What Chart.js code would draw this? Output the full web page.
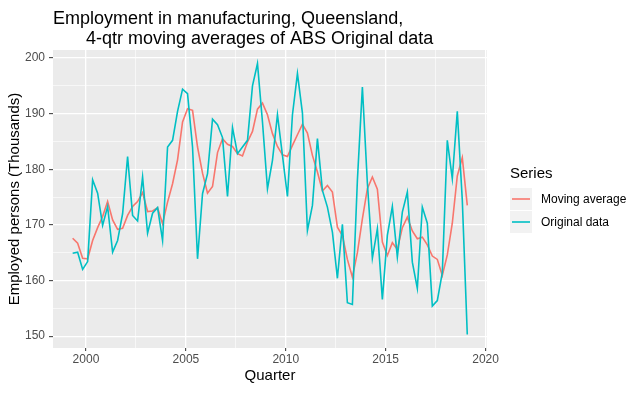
<!DOCTYPE html>
<html>
<head>
<meta charset="utf-8">
<script src="https://cdn.jsdelivr.net/npm/chart.js@4"></script>
<style>
  body { margin: 0; background: #ffffff; }
  #wrap { width: 640px; height: 393px; }
</style>
</head>
<body>
<div id="wrap"><canvas id="empChart" width="640" height="393"></canvas></div>
<script>
// Quarters: ABS quarterly series, May 1999 .. Feb 2019 (decimal years)
const quarters = Array.from({ length: 80 }, (_, i) => 1999 + 4 / 12 + i * 0.25);

// Original data (thousands)
const originalData = [
  164.9, 165.1, 162.0, 163.4, 178.1, 175.7, 169.9, 173.3, 165.1, 167.2,
  172.0, 182.3, 171.7, 170.7, 178.6, 168.5, 172.1, 173.1, 167.2, 184.0,
  185.2, 190.4, 194.4, 193.6, 184.0, 163.9, 175.6, 179.2, 189.0, 188.0,
  185.7, 175.1, 187.5, 182.8, 184.0, 185.2, 195.0, 199.0, 188.5, 176.5,
  181.6, 189.8, 182.5, 175.1, 189.8, 197.2, 190.1, 169.0, 173.5, 185.5,
  176.2, 173.2, 168.7, 160.4, 170.1, 156.0, 155.7, 178.0, 194.8, 177.5,
  164.0, 169.3, 156.6, 168.1, 173.3, 164.2, 172.3, 175.9, 163.3, 158.6,
  173.2, 170.3, 155.4, 156.4, 161.4, 185.2, 178.3, 190.4, 174.5, 150.3
];

// 4-qtr moving average (thousands)
const movingAverage = [
  167.6, 166.7, 164.0, 163.9, 167.2, 169.5, 171.5, 174.2, 170.9, 169.2,
  169.4, 171.7, 173.3, 174.2, 175.8, 172.4, 172.5, 173.1, 170.2, 174.1,
  177.4, 181.7, 188.5, 190.9, 190.6, 184.0, 179.3, 175.7, 176.9, 183.0,
  185.5, 184.5, 184.1, 182.8, 182.4, 184.9, 186.8, 190.8, 191.9, 189.8,
  186.4, 184.1, 182.6, 182.3, 184.3, 186.2, 188.1, 186.5, 182.5, 179.5,
  176.1, 177.1, 175.9, 169.6, 168.1, 163.8, 160.6, 165.0, 171.1, 176.5,
  178.6, 176.4, 166.9, 164.5, 166.8, 165.6, 169.5, 171.4, 168.9, 167.5,
  167.8, 166.4, 164.4, 163.8, 160.9, 164.6, 170.3, 178.8, 182.1, 173.5
];

// tick labels
const xMajorTicks = [2000, 2005, 2010, 2015, 2020];
const xMinorTicks = [2002.5, 2007.5, 2012.5, 2017.5];
const yMajorTicks = [150, 160, 170, 180, 190, 200];
const yMinorTicks = [155, 165, 175, 185, 195];

const seriesNames = ["Moving average", "Original data"];
const seriesColors = ["#F8766D", "#00BFC4"];

const FONT = "'Liberation Sans', Arial, sans-serif";

function toPoints(values) {
  return values.map((v, i) => ({ x: quarters[i], y: v }));
}

function setTicks(major, minor) {
  return function (scale) {
    scale.ticks = major.concat(minor).sort((a, b) => a - b).map(v => ({ value: v }));
  };
}

function isMajor(list, v) {
  return list.indexOf(v) !== -1;
}

// grey panel background
const panelBg = {
  id: "panelBg",
  beforeDraw(chart) {
    const a = chart.chartArea;
    const ctx = chart.ctx;
    ctx.save();
    ctx.fillStyle = "#EBEBEB";
    ctx.fillRect(a.left, a.top, a.right - a.left, a.bottom - a.top);
    ctx.restore();
  }
};

// title and ggplot-like legend
const decorations = {
  id: "decorations",
  afterDraw(chart) {
    const ctx = chart.ctx;
    ctx.save();
    ctx.fillStyle = "#000000";
    ctx.textBaseline = "alphabetic";
    ctx.textAlign = "left";
    ctx.font = "18px " + FONT;
    ctx.fillText("Employment in manufacturing, Queensland,", 53, 24);
    ctx.fillText("4-qtr moving averages of ABS Original data", 86, 44);

    ctx.font = "15px " + FONT;
    ctx.fillText("Series", 510, 178);

    ctx.font = "12px " + FONT;
    ctx.textBaseline = "middle";
    seriesNames.forEach((name, i) => {
      const top = 188 + i * 23;
      ctx.fillStyle = "#F2F2F2";
      ctx.fillRect(510, top, 22, 22);
      ctx.strokeStyle = seriesColors[i];
      ctx.lineWidth = 1.6;
      ctx.beginPath();
      ctx.moveTo(512, top + 11);
      ctx.lineTo(530, top + 11);
      ctx.stroke();
      ctx.fillStyle = "#000000";
      ctx.fillText(name, 541, top + 11.5);
    });
    ctx.restore();
  }
};

const ctx = document.getElementById("empChart").getContext("2d");
const chart = new Chart(ctx, {
  type: "line",
  data: {
    datasets: [
      {
        label: seriesNames[0],
        data: toPoints(movingAverage),
        borderColor: seriesColors[0],
        borderWidth: 1.6,
        pointRadius: 0,
        tension: 0,
        order: 2
      },
      {
        label: seriesNames[1],
        data: toPoints(originalData),
        borderColor: seriesColors[1],
        borderWidth: 1.6,
        pointRadius: 0,
        tension: 0,
        order: 1
      }
    ]
  },
  options: {
    responsive: false,
    animation: false,
    layout: { padding: { top: 50, right: 153, left: 0, bottom: 0 } },
    plugins: {
      legend: { display: false },
      tooltip: { enabled: false }
    },
    scales: {
      x: {
        type: "linear",
        min: 1998.35,
        max: 2020.07,
        afterBuildTicks: setTicks(xMajorTicks, xMinorTicks),
        afterFit(scale) { scale.height = 45; },
        border: { display: false },
        grid: {
          color: "#FFFFFF",
          lineWidth: c => isMajor(xMajorTicks, c.tick.value) ? 1.3 : 0.6,
          tickColor: c => isMajor(xMajorTicks, c.tick.value) ? "#333333" : "rgba(0,0,0,0)",
          tickLength: 3,
          tickWidth: 1
        },
        ticks: {
          autoSkip: false,
          maxRotation: 0,
          padding: 1,
          color: "#4D4D4D",
          font: { family: FONT, size: 12 },
          callback: v => isMajor(xMajorTicks, v) ? String(v) : ""
        },
        title: {
          display: true,
          text: "Quarter",
          color: "#000000",
          font: { family: FONT, size: 15 },
          padding: { top: 0, bottom: 8 }
        }
      },
      y: {
        type: "linear",
        min: 147.87,
        max: 201.44,
        afterBuildTicks: setTicks(yMajorTicks, yMinorTicks),
        afterFit(scale) { scale.width = 53; },
        border: { display: false },
        grid: {
          color: "#FFFFFF",
          lineWidth: c => isMajor(yMajorTicks, c.tick.value) ? 1.3 : 0.6,
          tickColor: c => isMajor(yMajorTicks, c.tick.value) ? "#333333" : "rgba(0,0,0,0)",
          tickLength: 4,
          tickWidth: 1
        },
        ticks: {
          autoSkip: false,
          padding: 4,
          color: "#4D4D4D",
          font: { family: FONT, size: 12 },
          callback: v => isMajor(yMajorTicks, v) ? String(v) : ""
        },
        title: {
          display: true,
          text: "Employed persons (Thousands)",
          color: "#000000",
          font: { family: FONT, size: 15 },
          padding: { top: 6, bottom: 0 }
        }
      }
    }
  },
  plugins: [panelBg, decorations]
});
</script>
</body>
</html>
